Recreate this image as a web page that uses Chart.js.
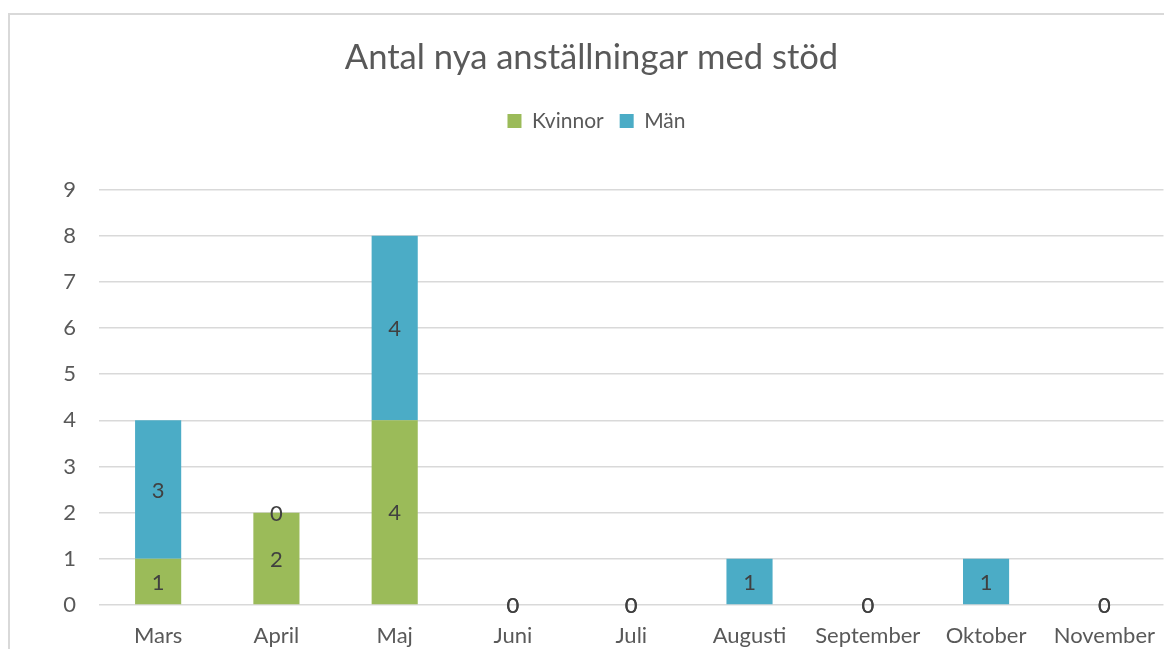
<!DOCTYPE html>
<html>
<head>
<meta charset="utf-8">
<script src="https://cdn.jsdelivr.net/npm/chart.js@4"></script>
<style>
  html, body { margin: 0; padding: 0; background: #fff; overflow: hidden; }
  #frame { position: absolute; left: 8px; top: 13px; width: 2000px; height: 2000px; border: 2px solid #d9d9d9; box-sizing: border-box; }
  #wrap { position: absolute; left: 0; top: 0; width: 1165px; height: 649px; }
</style>
</head>
<body>
<div id="frame"></div>
<div id="wrap"><canvas id="myChart"></canvas></div>
<script>
const months = ['Mars', 'April', 'Maj', 'Juni', 'Juli', 'Augusti', 'September', 'Oktober', 'November'];
const kvinnor = [1, 2, 4, 0, 0, null, 0, null, 0];
const man = [3, 0, 4, 0, 0, 1, 0, 1, 0];
const yTicks = [0, 1, 2, 3, 4, 5, 6, 7, 8, 9];

const FONT = 'Lato, "Open Sans", sans-serif';

// draws the value in the middle of each bar segment
const barLabels = {
    id: 'barLabels',
    afterDatasetsDraw(chart) {
        const ctx = chart.ctx;
        ctx.save();
        ctx.font = '22px ' + FONT;
        ctx.fillStyle = '#404040';
        ctx.textAlign = 'center';
        ctx.textBaseline = 'middle';
        chart.data.datasets.forEach((ds, i) => {
            const meta = chart.getDatasetMeta(i);
            meta.data.forEach((bar, j) => {
                const v = ds.data[j];
                if (v === null || v === undefined) return;
                ctx.fillText(String(v), bar.x, (bar.y + bar.base) / 2 + 1);
            });
        });
        ctx.restore();
    }
};

// extra space under the legend, and the original chart frame is wider than the picture,
// so title and legend sit a bit right of the canvas centre
const headerTweaks = {
    id: 'headerTweaks',
    beforeInit(chart) {
        const fit = chart.legend.fit;
        chart.legend.fit = function () {
            fit.bind(chart.legend)();
            this.height += 48;
        };
    },
    afterLayout(chart) {
        chart.titleBlock.left += 9;
        chart.titleBlock.right += 9;
        chart.legend.left += 14;
        chart.legend.right += 14;
    }
};

const ctx = document.getElementById('myChart').getContext('2d');
new Chart(ctx, {
    type: 'bar',
    data: {
        labels: months,
        datasets: [
            { label: 'Kvinnor', data: kvinnor, backgroundColor: '#9BBB59' },
            { label: 'Män', data: man, backgroundColor: '#4BACC6' }
        ]
    },
    options: {
        responsive: true,
        maintainAspectRatio: false,
        animation: false,
        datasets: { bar: { barPercentage: 1, categoryPercentage: 0.39 } },
        layout: { padding: 0 },
        plugins: {
            title: {
                display: true,
                text: 'Antal nya anställningar med stöd',
                color: '#595959',
                font: { family: FONT, size: 34.6, weight: 'normal' },
                padding: { top: 37, bottom: 16 }
            },
            legend: {
                position: 'top',
                labels: {
                    color: '#595959',
                    font: { family: FONT, size: 21 },
                    boxWidth: 14,
                    boxHeight: 14,
                    padding: 16
                }
            },
            tooltip: { enabled: false }
        },
        scales: {
            x: {
                stacked: true,
                grid: { display: false },
                border: { display: false },
                ticks: { color: '#595959', font: { family: FONT, size: 22 }, padding: 10 },
                afterFit(scale) { scale.height = 44; }
            },
            y: {
                stacked: true,
                min: 0,
                max: 9,
                afterBuildTicks(scale) { scale.ticks = yTicks.map(v => ({ value: v })); },
                grid: { color: '#d9d9d9', lineWidth: 1.5, drawTicks: false },
                border: { display: false },
                ticks: { color: '#595959', font: { family: FONT, size: 22 }, padding: 23 },
                afterFit(scale) { scale.width = 99; }
            }
        }
    },
    plugins: [barLabels, headerTweaks]
});
</script>
</body>
</html>
